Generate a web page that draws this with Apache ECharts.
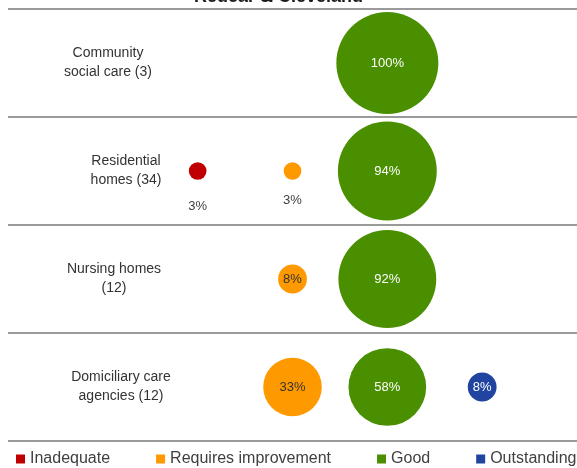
<!DOCTYPE html>
<html>

<head>
  <meta charset="utf-8">
  <title>ECharts</title>
  <script src="https://cdn.jsdelivr.net/npm/echarts@6/dist/echarts.min.js"></script>
</head>
<style>
  * {
    padding: 0;
    margin: 0;
  }

  #main {
    width: 577px;
    height: 468px;
    overflow: hidden;
    position: absolute
  }
</style>

<body>
  <div id="main"></div>
  <script type="text/javascript">
    // 数据
    var categories = ['Community\nsocial care (3)', 'Residential\nhomes (34)', 'Nursing homes\n(12)', 'Domiciliary care\nagencies (12)'];
    var ratings = ['Inadequate', 'Requires improvement', 'Good', 'Outstanding'];
    var inadequate = [null, 3, null, null];
    var requiresImprovement = [null, 3, 8, 33];
    var good = [100, 94, 92, 58];
    var outstanding = [null, null, null, 8];

    // 样式
    var colors = ['#C00000', '#FF9900', '#4A8F00', '#2044A0'];
    var labelColors = ['#404040', '#333333', '#ffffff', '#ffffff'];
    var smallDist = [20, 14, 10, 10];
    // 行标签的水平微调 [左, 右]
    var rowPad = [[0, 20], [16, 0], [0, 8], [6, 0]];

    function makeSeries(name, values, k) {
      var data = [];
      values.forEach(function (v, i) {
        if (v == null) return;
        var item = { value: [k + 1, categories[i], v] };
        if (v < 5) {
          item.label = { position: 'bottom', color: '#404040', distance: smallDist[k] };
        }
        data.push(item);
      });
      return {
        name: name,
        type: 'scatter',
        symbol: 'circle',
        symbolSize: function (val) { return Math.sqrt(val[2]) * 10.2; },
        itemStyle: { color: colors[k], opacity: 1 },
        label: {
          show: true,
          position: 'inside',
          color: labelColors[k],
          fontSize: 13,
          fontFamily: 'Liberation Sans',
          formatter: function (p) { return p.value[2] + '%'; }
        },
        data: data
      };
    }

    var rowLabel = {
      align: 'center',
      fontSize: 14,
      lineHeight: 19,
      color: '#333333',
      fontFamily: 'Liberation Sans'
    };

    var option = {
      animation: false,
      title: {
        text: 'Redcar & Cleveland',
        left: 194,
        top: -12,
        padding: 0,
        textStyle: { fontSize: 18, fontWeight: 'bold', color: '#1a1a1a', fontFamily: 'Liberation Sans' }
      },
      legend: {
        left: 16,
        top: 451,
        width: 600,
        padding: 0,
        itemGap: 46,
        itemWidth: 9,
        itemHeight: 9,
        icon: 'rect',
        textStyle: { fontSize: 16, color: '#404040', fontFamily: 'Liberation Sans' },
        data: ratings
      },
      grid: { left: 8, right: 0, top: 9, bottom: 27 },
      xAxis: {
        type: 'value',
        min: -1,
        max: 5,
        show: false
      },
      yAxis: {
        type: 'category',
        inverse: true,
        data: categories.map(function (c, i) {
          return {
            value: c,
            textStyle: Object.assign({}, rowLabel, { padding: [6, rowPad[i][1], 0, rowPad[i][0]] })
          };
        }),
        axisLine: { show: false },
        axisTick: { show: false },
        splitLine: { show: true, lineStyle: { color: '#9a9a9a', width: 2 } },
        axisLabel: Object.assign({ inside: true, margin: 110 }, rowLabel)
      },
      series: [
        makeSeries(ratings[0], inadequate, 0),
        makeSeries(ratings[1], requiresImprovement, 1),
        makeSeries(ratings[2], good, 2),
        makeSeries(ratings[3], outstanding, 3)
      ]
    };

    var myChart = echarts.init(document.getElementById('main'));
    myChart.setOption(option);
  </script>
</body>

</html>
